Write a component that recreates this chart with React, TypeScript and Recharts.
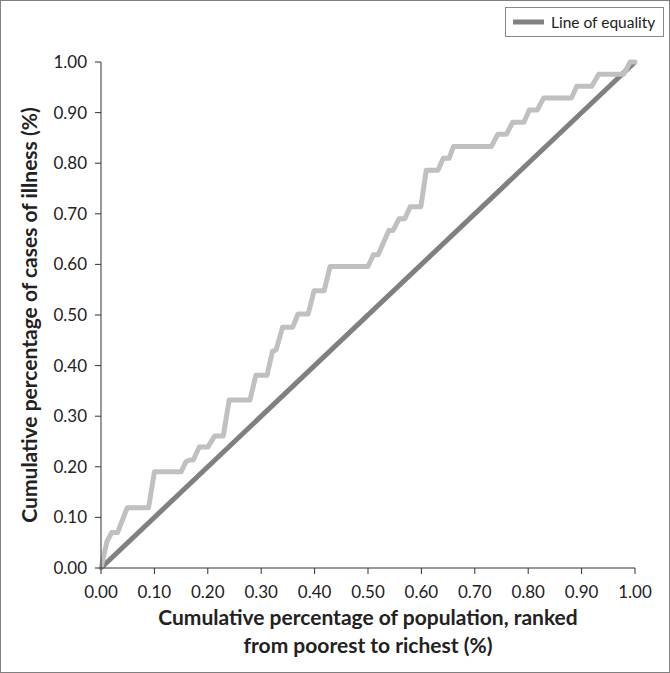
import React from 'react';
import {Line, LineChart, XAxis, YAxis} from "recharts";

// concentration curve corners
const popShare = [
    0, 0.011, 0.020, 0.031, 0.049, 0.089, 0.100, 0.150, 0.159, 0.165, 0.173, 0.184, 0.200, 0.213, 0.229,
    0.240, 0.279, 0.290, 0.311, 0.321, 0.328, 0.340, 0.359, 0.369, 0.388, 0.399, 0.418, 0.429, 0.500,
    0.510, 0.519, 0.539, 0.547, 0.558, 0.569, 0.579, 0.599, 0.609, 0.631, 0.641, 0.652, 0.660, 0.731,
    0.743, 0.759, 0.771, 0.792, 0.802, 0.817, 0.829, 0.881, 0.891, 0.919, 0.932, 0.979, 0.991, 1.0,
];
const illnessShare = [
    0, 0.052, 0.070, 0.070, 0.119, 0.119, 0.190, 0.190, 0.210, 0.213, 0.214, 0.239, 0.239, 0.261, 0.261,
    0.332, 0.332, 0.381, 0.381, 0.428, 0.431, 0.476, 0.476, 0.502, 0.502, 0.548, 0.548, 0.596, 0.596,
    0.619, 0.619, 0.667, 0.667, 0.690, 0.690, 0.714, 0.714, 0.786, 0.786, 0.810, 0.810, 0.833, 0.833,
    0.857, 0.857, 0.881, 0.881, 0.905, 0.905, 0.929, 0.929, 0.952, 0.952, 0.976, 0.976, 1.0, 1.0,
];
const equalityX = [0, 1];
const equalityY = [0, 1];
const axisTicks = [0, 0.1, 0.2, 0.3, 0.4, 0.5, 0.6, 0.7, 0.8, 0.9, 1.0];

const curveData = popShare.map((x, i) => ({x, y: illnessShare[i]}));
const equalityData = equalityX.map((x, i) => ({x, y: equalityY[i]}));

const FONT = "Lato, 'Open Sans', sans-serif";
const tickStyle = {fontSize: 17, fill: '#222', fontFamily: FONT};

const XTitle = (props: any) => {
    const vb = props.viewBox;
    const cx = vb.x + vb.width / 2;
    return (
        <text x={cx} textAnchor="middle" fontFamily={FONT} fontWeight="bold" fontSize={21} fill="#222">
            <tspan x={cx} y={vb.y + 57}>Cumulative percentage of population, ranked</tspan>
            <tspan x={cx} y={vb.y + 85}>from poorest to richest (%)</tspan>
        </text>
    );
};

const YTitle = (props: any) => {
    const vb = props.viewBox;
    const cy = vb.y + vb.height / 2;
    return (
        <text x={27} y={cy} transform={`rotate(-90, 27, ${cy})`} textAnchor="middle" dominantBaseline="central"
              fontFamily={FONT} fontWeight="bold" fontSize={21} fill="#222">
            Cumulative percentage of cases of illness (%)
        </text>
    );
};

const LegendBox = () => (
    <div style={{
        position: 'absolute', left: 504, top: 6, width: 159, height: 30, border: '1px solid #888',
        boxSizing: 'border-box', display: 'flex', alignItems: 'center', background: '#fff',
        fontFamily: FONT, fontSize: 15.5, color: '#222'
    }}>
        <svg width={38} height={10} style={{marginLeft: 7}}>
            <line x1={0} y1={5} x2={31} y2={5} stroke="#808080" strokeWidth={5}/>
        </svg>
        <span>Line of equality</span>
    </div>
);

const App = () => {
    return (
        <div style={{position: 'absolute', left: 0, top: 0, width: 670, height: 673, border: '1px solid #808080', boxSizing: 'border-box', background: '#fff'}}>
            <LineChart width={668} height={671} margin={{top: 61, right: 34, bottom: 74, left: 0}}>
                <XAxis dataKey="x" type="number" domain={[0, 1]} ticks={axisTicks} tickFormatter={(v: number) => v.toFixed(2)}
                       tick={tickStyle} stroke="#333" tickSize={6} tickMargin={12} interval={0} height={30}
                       label={<XTitle/>}/>
                <YAxis dataKey="y" type="number" domain={[0, 1]} ticks={axisTicks} tickFormatter={(v: number) => v.toFixed(2)}
                       tick={tickStyle} stroke="#333" tickSize={6} tickMargin={8} width={100} interval={0}
                       label={<YTitle/>}/>
                <Line data={equalityData} dataKey="y" name="Line of equality" stroke="#808080" strokeWidth={5}
                      dot={false} activeDot={false} isAnimationActive={false}/>
                <Line data={curveData} dataKey="y" name="Concentration curve" stroke="#c0c0c0" strokeWidth={5}
                      strokeLinejoin="round" strokeLinecap="round" dot={false} activeDot={false}
                      isAnimationActive={false}/>
            </LineChart>
            <LegendBox/>
        </div>
    );
};

export default App;
